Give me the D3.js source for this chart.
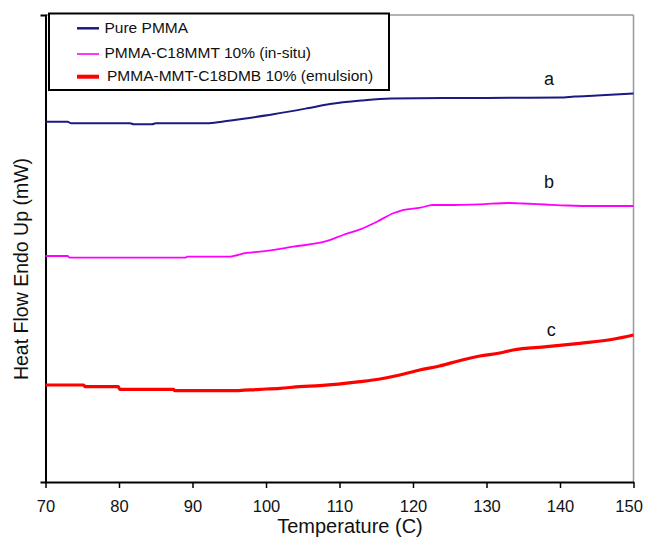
<!DOCTYPE html>
<html><head><meta charset="utf-8">
<script src="https://cdn.jsdelivr.net/npm/d3@7"></script>
<style>
body{margin:0;background:#fff;}
text{font-family:"Liberation Sans",Arial,sans-serif;}
</style></head>
<body><svg id="c" width="645" height="537"></svg>
<script>
const xTicks = [70,80,90,100,110,120,130,140,150];
const seriesNames = ["Pure PMMA","PMMA-C18MMT 10% (in-situ)","PMMA-MMT-C18DMB 10% (emulsion)"];
const seriesColors = ["#1a1a80","#ff00ff","#ff0000"];
const seriesWidths = [2,1.8,3.2];
const legendWidths = [2.5,1.6,4];
const curveLabels = ["a","b","c"];
// temperature (C), heat flow (arbitrary mW scale)
const tempA = [70,73,73.5,81.5,82,84.5,85,92,94,96.7,101,105.6,108.7,113,117,125,135,140,142,145,150];
const flowA = [77.15,77.15,76.81,76.81,76.60,76.60,76.81,76.81,77.15,77.73,78.74,80.02,80.94,81.69,82.12,82.23,82.27,82.33,82.55,82.76,83.19];
const tempB = [70,73,73.3,89,89.3,94.9,97.4,99.2,103.7,108.3,110.5,112.8,115.1,117.3,118.6,121,122.7,124.6,129.1,133,135,138,141,145,150];
const flowB = [48.39,48.39,48.03,48.03,48.24,48.24,49.04,49.31,50.39,51.61,52.89,54.11,55.74,57.54,58.24,58.74,59.31,59.31,59.46,59.74,59.64,59.42,59.21,59.10,59.10];
const tempC = [70,75.2,75.4,79.9,80.1,87.4,87.6,95.1,99.2,101.9,104.6,107.3,112.8,115.5,118.2,120.9,123.6,126.3,129.1,131.8,133.6,138.2,142.7,147.2,150];
const flowC = [20.77,20.77,20.41,20.41,19.85,19.85,19.55,19.55,19.85,20.06,20.41,20.62,21.48,22.06,22.91,23.98,24.84,25.97,26.98,27.62,28.27,28.97,29.70,30.56,31.48];
const labelPos = [[138.5,84.93],[138.5,62.96],[138.8,31.18]];

const temps=[tempA,tempB,tempC], flows=[flowA,flowB,flowC];
const svg=d3.select("#c");
const L=45.5,R=633.5,T=15,B=482;
const x=d3.scaleLinear().domain([70,150]).range([L,R]);
const y=d3.scaleLinear().domain([0,100]).range([B,T]);

// frame
svg.append("line").attr("x1",L).attr("x2",R).attr("y1",T).attr("y2",T).attr("stroke","#999").attr("stroke-width",1.5);
svg.append("line").attr("x1",R).attr("x2",R).attr("y1",T).attr("y2",B).attr("stroke","#999").attr("stroke-width",1.5);

// x axis
const gx=svg.append("g").attr("transform",`translate(0,${B})`)
  .call(d3.axisBottom(x).tickValues(xTicks).tickSize(6).tickSizeOuter(0).tickPadding(12));
gx.select(".domain").attr("stroke","#000").attr("stroke-width",2);
gx.selectAll(".tick line").attr("stroke","#000").attr("stroke-width",1.5);
gx.selectAll(".tick text").attr("font-size",16.5).attr("fill","#111").attr("font-family","Liberation Sans, Arial, sans-serif")
  .attr("dx",d=>d===150?"-0.3em":0);

// y axis (no labels)
const gy=svg.append("g").attr("transform",`translate(${L},0)`)
  .call(d3.axisLeft(y).tickValues([]).tickSizeOuter(5));
gy.select(".domain").attr("stroke","#000").attr("stroke-width",2);

// lines
const line=d3.line().x(d=>x(d[0])).y(d=>y(d[1])).curve(d3.curveMonotoneX);
temps.forEach((t,i)=>{
  const data=t.map((v,j)=>[v,flows[i][j]]);
  svg.append("path").datum(data).attr("d",line).attr("fill","none")
    .attr("stroke",seriesColors[i]).attr("stroke-width",seriesWidths[i]);
  svg.append("text").attr("x",x(labelPos[i][0])).attr("y",y(labelPos[i][1])).attr("text-anchor","middle")
    .attr("font-size",18).attr("fill","#111").text(curveLabels[i]);
});

// legend
const lg=svg.append("g");
lg.append("rect").attr("x",49).attr("y",13.5).attr("width",340).attr("height",76.5).attr("fill","#fff").attr("stroke","#000").attr("stroke-width",2);
const legY=[28.3,54,76.7];
const legBase=[32.5,57.7,81.2];
seriesNames.forEach((n,i)=>{
  lg.append("line").attr("x1",77).attr("x2",99).attr("y1",legY[i]).attr("y2",legY[i])
    .attr("stroke",seriesColors[i]).attr("stroke-width",legendWidths[i]);
  lg.append("text").attr("x",i===2?107:104.5).attr("y",legBase[i]).attr("font-size",15.5).attr("fill","#111").text(n);
});

// axis titles
svg.append("text").attr("x",350).attr("y",533).attr("text-anchor","middle").attr("font-size",20).attr("fill","#111").text("Temperature (C)");
svg.append("text").attr("transform","translate(28,269) rotate(-90)").attr("text-anchor","middle").attr("font-size",19.5).attr("fill","#111").text("Heat Flow Endo Up (mW)");
</script></body></html>
